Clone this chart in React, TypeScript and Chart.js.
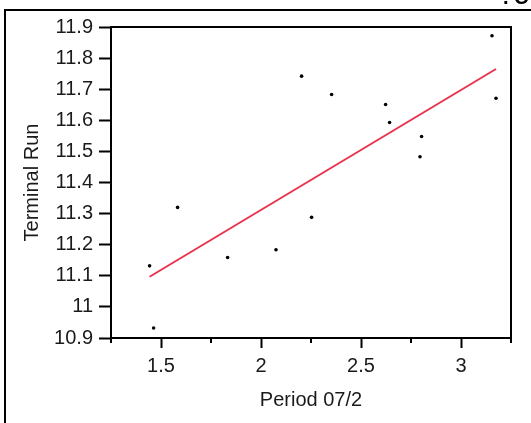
import React, { useEffect, useRef } from 'react';
import { Chart, registerables } from 'chart.js';

Chart.register(...registerables);

// Data
const periodX = [1.443, 1.463, 1.583, 1.833, 2.075, 2.203, 2.253, 2.353, 2.623, 2.643, 2.795, 2.803, 3.155, 3.175];
const terminalRunY = [11.132, 10.932, 11.32, 11.159, 11.184, 11.742, 11.288, 11.683, 11.651, 11.593, 11.483, 11.548, 11.872, 11.671];
const fitX = [1.443, 3.175];
const fitY = [11.097, 11.765];

const xMajorTicks = [1.5, 2, 2.5, 3];
const xTickLabels = ['1.5', '2', '2.5', '3'];
const xMinorTicks = [1.25, 1.75, 2.25, 2.75, 3.25];
const yTicks = [10.9, 11, 11.1, 11.2, 11.3, 11.4, 11.5, 11.6, 11.7, 11.8, 11.9];
const yTickLabels = ['10.9', '11', '11.1', '11.2', '11.3', '11.4', '11.5', '11.6', '11.7', '11.8', '11.9'];

const xTitle = 'Period 07/2';
const yTitle = 'Terminal Run';
const cornerText = '. C';

const FONT = "'Liberation Sans', Arial, sans-serif";
const TEXT_COLOR = '#1a1a1a';

export default function App() {
  const ref = useRef<HTMLCanvasElement>(null);

  useEffect(() => {
    const canvas = ref.current;
    if (!canvas) return;

    const framePlugin = {
      id: 'framePlugin',
      afterDraw(chart: any) {
        const ctx = chart.ctx;
        const a = chart.chartArea;
        ctx.save();
        // outer frame
        ctx.fillStyle = '#000';
        ctx.fillRect(4, 9, 2, 500);
        ctx.fillRect(4, 9, 600, 2);
        // plot box
        ctx.strokeStyle = '#000';
        ctx.lineWidth = 2;
        ctx.strokeRect(a.left, a.top, a.right - a.left, a.bottom - a.top);
        // minor x ticks
        const xs = chart.scales.x;
        ctx.lineWidth = 2;
        ctx.beginPath();
        xMinorTicks.forEach((v) => {
          const px = xs.getPixelForValue(v);
          ctx.moveTo(px, a.bottom);
          ctx.lineTo(px, a.bottom + 5);
        });
        ctx.stroke();
        // clipped corner text
        ctx.fillStyle = '#000';
        ctx.font = `bold 20px ${FONT}`;
        ctx.textBaseline = 'alphabetic';
        ctx.textAlign = 'left';
        ctx.fillText(cornerText, 503, 4);
        ctx.restore();
      },
    };

    const chart = new Chart(canvas, {
      type: 'scatter',
      data: {
        datasets: [
          {
            type: 'line',
            data: fitX.map((x, i) => ({ x, y: fitY[i] })),
            borderColor: '#e8334f',
            borderWidth: 2,
            pointRadius: 0,
            fill: false,
          } as any,
          {
            type: 'scatter',
            data: periodX.map((x, i) => ({ x, y: terminalRunY[i] })),
            backgroundColor: '#000',
            borderColor: '#000',
            pointRadius: 1.8,
            borderWidth: 0,
          },
        ],
      },
      options: {
        animation: false,
        responsive: false,
        maintainAspectRatio: false,
        layout: { padding: { top: 27, right: 20, left: 0, bottom: 0 } },
        plugins: { legend: { display: false }, tooltip: { enabled: false } },
        scales: {
          x: {
            type: 'linear',
            min: 1.25,
            max: 3.25,
            afterBuildTicks: (s: any) => {
              s.ticks = xMajorTicks.map((v) => ({ value: v }));
            },
            afterFit: (s: any) => {
              s.height = 423 - 338;
            },
            ticks: {
              callback: (_v: any, i: number) => xTickLabels[i],
              font: { family: FONT, size: 20 },
              color: TEXT_COLOR,
              padding: 6,
              maxRotation: 0,
              autoSkip: false,
            },
            grid: { drawOnChartArea: false, drawTicks: true, tickLength: 10, tickWidth: 2, tickColor: '#000' },
            border: { display: false },
            title: {
              display: true,
              text: xTitle,
              color: TEXT_COLOR,
              font: { family: FONT, size: 20 },
              padding: { top: 0, bottom: 11 },
            },
          },
          y: {
            type: 'linear',
            min: 10.9,
            max: 11.9,
            afterBuildTicks: (s: any) => {
              s.ticks = yTicks.map((v) => ({ value: v }));
            },
            afterFit: (s: any) => {
              s.width = 111;
            },
            ticks: {
              callback: (_v: any, i: number) => yTickLabels[i],
              font: { family: FONT, size: 20 },
              color: TEXT_COLOR,
              padding: 6,
              autoSkip: false,
            },
            grid: { drawOnChartArea: false, drawTicks: true, tickLength: 12, tickWidth: 2, tickColor: '#000' },
            border: { display: false },
            title: {
              display: true,
              text: yTitle,
              color: TEXT_COLOR,
              font: { family: FONT, size: 20 },
              padding: { top: 20.5, bottom: 0 },
            },
          },
        },
      },
      plugins: [framePlugin],
    });

    return () => chart.destroy();
  }, []);

  return (
    <div style={{ position: 'fixed', left: 0, top: 0, width: 531, height: 423, background: '#fff' }}>
      <canvas ref={ref} width={531} height={423} style={{ display: 'block', width: 531, height: 423 }} />
    </div>
  );
}
